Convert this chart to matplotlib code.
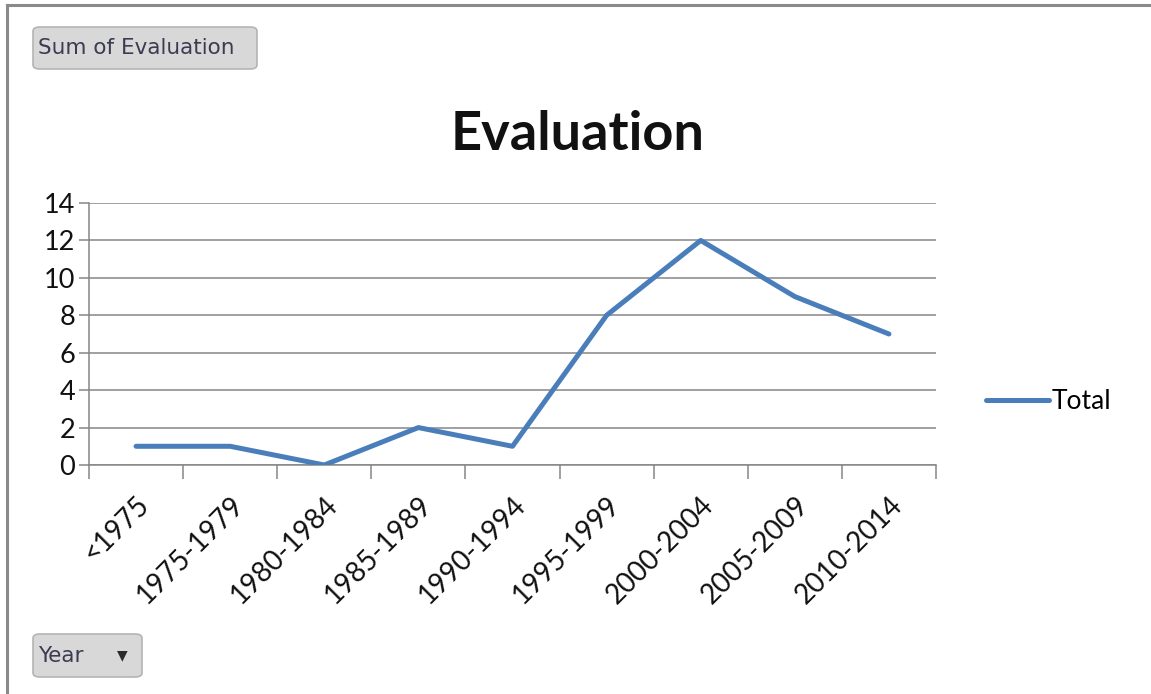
import numpy as np
import matplotlib.pyplot as plt
from matplotlib.patches import FancyBboxPatch
from matplotlib.lines import Line2D

# data
years = ['<1975', '1975-1979', '1980-1984', '1985-1989', '1990-1994',
         '1995-1999', '2000-2004', '2005-2009', '2010-2014']
total = [1, 1, 0, 2, 1, 8, 12, 9, 7]
yticks = [0, 2, 4, 6, 8, 10, 12, 14]

plt.rcParams['font.family'] = ['Lato', 'DejaVu Sans']

fig = plt.figure(figsize=(11.51, 6.94), dpi=100)
W, H = 1151, 694

# outer frame (top and left edges visible)
fig.add_artist(Line2D([7 / W, 1], [1 - 5 / H, 1 - 5 / H], color='#8a8a8a', lw=2.2))
fig.add_artist(Line2D([7 / W, 7 / W], [0, 1 - 5 / H], color='#8a8a8a', lw=2.2))

ax = fig.add_axes([89 / W, 1 - 465 / H, (936 - 89) / W, (465 - 203) / H])
x = np.arange(len(years))
ax.plot(x, total, color='#4a7ebb', lw=3.6, solid_capstyle='round',
        solid_joinstyle='round', label='Total', zorder=3)

ax.set_xlim(-0.5, len(years) - 0.5)
ax.set_ylim(0, 14)
ax.set_yticks(yticks)
ax.grid(axis='y', color='#868686', lw=1.1)
ax.set_axisbelow(True)
for s in ['top', 'right']:
    ax.spines[s].set_visible(False)
for s in ['left', 'bottom']:
    ax.spines[s].set_color('#868686')
    ax.spines[s].set_linewidth(1.1)
ax.tick_params(axis='y', length=7, color='#868686', width=1.1,
               labelsize=19.5, pad=3, labelcolor='#111111')

# category labels at centres, tick marks at boundaries
ax.set_xticks(x)
ax.set_xticklabels(years, rotation=45, ha='right', rotation_mode='anchor',
                   fontsize=20, color='#111111')
ax.tick_params(axis='x', which='major', length=0, pad=19)
ax.set_xticks(np.arange(-0.5, len(years)), minor=True)
ax.tick_params(axis='x', which='minor', length=10, color='#868686', width=1.1)

# legend
fig.legend(handles=[Line2D([], [], color='#4a7ebb', lw=3.6, solid_capstyle='round')],
           labels=['Total'], loc='center left', bbox_to_anchor=(986 / W, 1 - 402 / H),
           frameon=False, fontsize=19, handlelength=2.4, handletextpad=0.1,
           borderpad=0, borderaxespad=0)

fig.text(578 / W, 1 - 135 / H, 'Evaluation', ha='center', va='center',
         fontsize=39, fontweight='bold', color='#111111')

# pivot field buttons
def button(x0, y0, x1, y1, label):
    b = FancyBboxPatch((x0 / W, 1 - y1 / H), (x1 - x0) / W, (y1 - y0) / H,
                       boxstyle='round,pad=0,rounding_size=0.006',
                       transform=fig.transFigure, facecolor='#d8d8d8',
                       edgecolor='#b4b4b4', lw=1.2)
    fig.add_artist(b)
    fig.text((x0 + 5) / W, 1 - (y0 + y1) / 2 / H, label, ha='left', va='center',
             fontsize=15.5, color='#3b3b52', family='DejaVu Sans')

button(33, 27, 257, 69, 'Sum of Evaluation')
button(33, 634, 142, 677, 'Year')
fig.text(122 / W, 1 - 655 / H, '\u25BC', ha='center', va='center',
         fontsize=10, color='#2a2a2a', family='DejaVu Sans')

fig.savefig('out.png', dpi=100)
